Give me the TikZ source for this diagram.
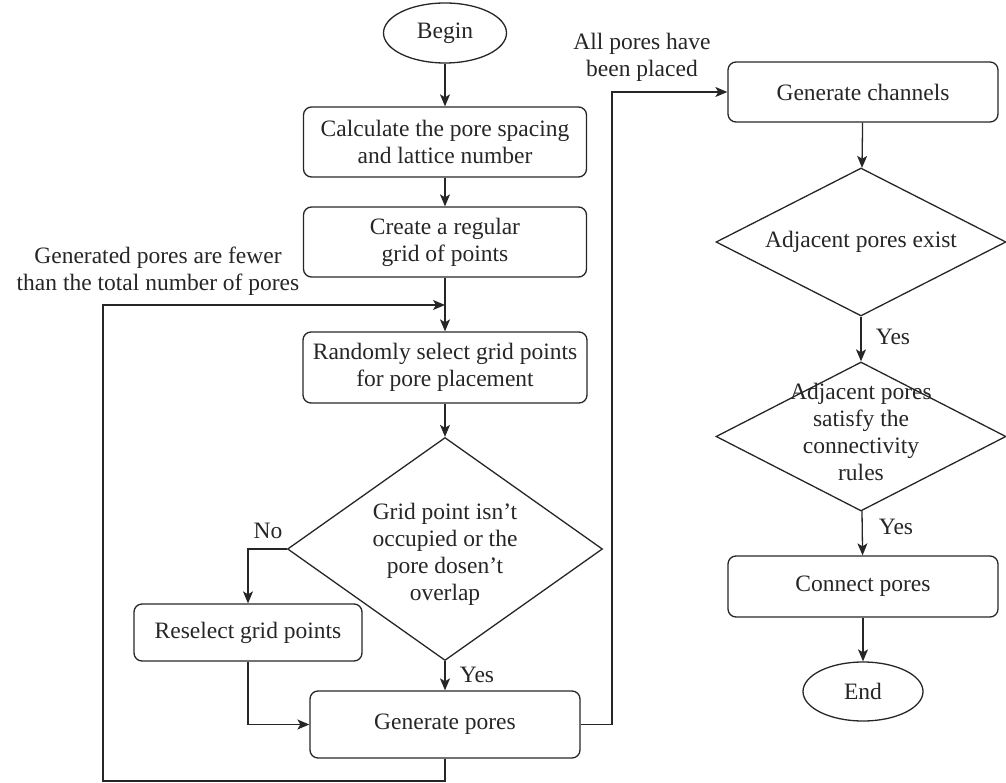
\documentclass[tikz,border=0pt]{standalone}
\usepackage{fontspec}
\setmainfont{Liberation Serif}
\usetikzlibrary{shapes.geometric,arrows.meta}
\begin{document}
\begin{tikzpicture}[x=1pt,y=-1pt,
  every node/.style={font=\fontsize{23.5}{27}\selectfont, text=black!85, align=center},
  line/.style={draw=black!85, line width=1.3pt},
  arr/.style={line, -{Stealth[length=12pt,width=10pt,inset=3pt]}},
  procbox/.style={line, rounded corners=8pt, inner sep=0pt},
  term/.style={line, ellipse, inner sep=0pt},
  decide/.style={line, diamond, inner sep=0pt, shape aspect=1.4},
  lbl/.style={inner sep=0pt}]
\useasboundingbox (0,0) rectangle (1006,783);
% left column
\node[term, minimum width=123pt, minimum height=60pt] (begin) at (445,33) {Begin};
\node[procbox, minimum width=283pt, minimum height=70pt] (calc) at (445,142) {Calculate the pore spacing\\and lattice number};
\node[procbox, minimum width=283pt, minimum height=70pt] (create) at (445,242) {Create a regular\\grid of points};
\node[procbox, minimum width=284pt, minimum height=71pt] (random) at (445,367.5) {Randomly select grid points\\for pore placement};
\node[decide, minimum width=315pt, minimum height=223pt] (d1) at (445,549) {};
\node[lbl] (d1t) at (445,554) {Grid point isn't\\occupied or the\\pore dosen't\\overlap};
\node[procbox, minimum width=228pt, minimum height=57pt] (reselect) at (248,632.5) {Reselect grid points};
\node[procbox, minimum width=270pt, minimum height=67pt] (genpores) at (445,724.5) {Generate pores};
% right column
\node[procbox, minimum width=270pt, minimum height=60pt] (genchan) at (863,92) {Generate channels};
\node[decide, minimum width=290pt, minimum height=148pt] (d2) at (861,242) {};
\node[lbl] (d2t) at (861,242) {Adjacent pores exist};
\node[decide, minimum width=290pt, minimum height=149pt] (d3) at (861,436.5) {};
\node[lbl] (d3t) at (861,432) {Adjacent pores\\satisfy the\\connectivity\\rules};
\node[procbox, minimum width=270pt, minimum height=61pt] (connect) at (863,586.5) {Connect pores};
\node[term, minimum width=120pt, minimum height=59pt] (end) at (863,691.5) {End};
% labels
\node[lbl] (lblall) at (642,57) {All pores have\\been placed};
\node[lbl] (lblfew) at (158,271) {Generated pores are fewer\\than the total number of pores};
\node[lbl] (lblno) at (268,531) {No};
\node[lbl] (lblyes1) at (477,675) {Yes};
\node[lbl] (lblyes2) at (893,337) {Yes};
\node[lbl] (lblyes3) at (896,527) {Yes};
% helper coordinates
\coordinate (j) at (445,305);
\coordinate (cl) at (103,781);
\coordinate (cr) at (612,92);
% connectors
\draw[arr] (begin) -- (calc);
\draw[arr] (calc) -- (create);
\draw[arr] (create) -- (random);
\draw[arr] (random) -- (d1);
\draw[arr] (d1.west) -| (reselect.north);
\draw[arr] (reselect.south) |- (genpores.west);
\draw[arr] (d1.south) -- (genpores.north);
\draw[arr] (genpores.south) |- (cl) |- (j);
\draw[arr] (genpores.east) -| (cr) -- (genchan.west);
\draw[arr] (genchan) -- (d2);
\draw[arr] (d2) -- (d3);
\draw[arr] (d3) -- (connect);
\draw[arr] (connect) -- (end);
\end{tikzpicture}
\end{document}
